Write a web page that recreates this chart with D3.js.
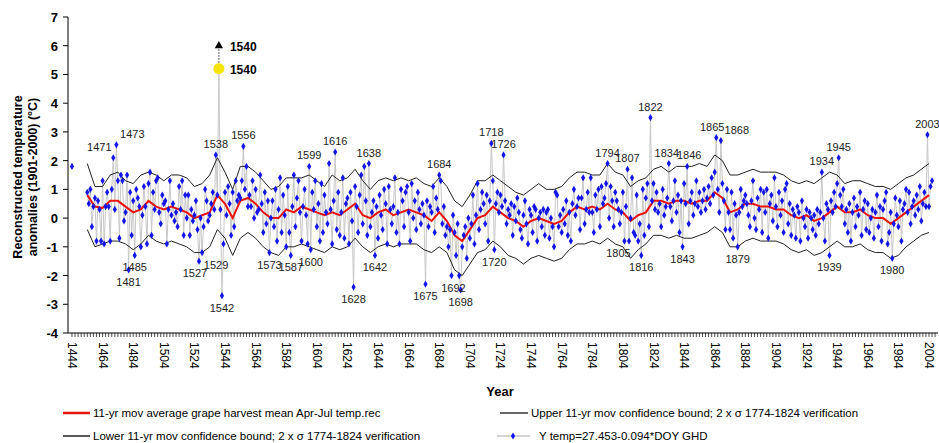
<!DOCTYPE html><html><head><meta charset="utf-8"><script src="https://cdn.jsdelivr.net/npm/d3@7"></script>
<style>body{margin:0;background:#fff}text{font-family:"Liberation Sans",Arial,sans-serif}</style></head><body><svg id="c" width="939" height="443"></svg>
<script>
const startYear=1454;
const blue=[
0.9,0.5,1.0,-0.3,0.4,0.7,-0.8,0.6,0.3,-0.8,
1.3,-0.9,0.4,0.9,0.4,-0.8,1.0,2.1,0.3,2.55,
1.3,-0.7,1.5,1.3,-0.1,0.2,1.5,-1.8,0.9,-0.6,
0.6,-1.3,1.0,0.7,0.4,-1.0,0.1,1.1,0.4,-0.9,
1.2,1.6,-0.6,0.9,0.3,1.3,1.4,0.2,-0.2,0.8,
0.5,0.6,-0.9,0.3,1.3,0.1,0.5,-0.1,0.2,-0.3,
1.1,0.3,1.3,-0.6,0.8,0.0,0.8,-0.6,0.3,-0.1,
0.1,0.6,-0.4,-1.5,0.0,-1.2,-0.3,1.0,0.6,-0.1,
0.1,0.5,0.9,0.3,2.2,0.8,5.2,0.3,-2.7,-0.9,
0.9,0.1,1.1,0.5,-0.6,0.9,-0.3,1.3,0.6,0.8,
0.7,1.3,2.5,1.0,1.8,0.4,0.8,0.4,1.3,0.0,
1.0,0.2,0.3,1.5,0.5,-0.5,0.9,-0.2,0.6,-1.2,
0.0,0.6,-0.3,1.0,-0.8,0.3,1.4,-0.5,0.8,0.1,
-1.0,1.1,-0.5,-1.3,0.4,1.5,-0.3,0.7,1.3,0.2,
-0.8,0.4,1.0,0.1,-0.9,1.8,-1.1,0.9,0.3,1.3,
-0.3,0.5,-0.8,1.2,-0.5,0.8,0.2,-0.2,1.9,0.3,
-0.9,0.6,2.3,-0.4,0.9,-0.6,0.2,1.4,-0.7,0.5,
0.7,-0.9,0.9,-0.1,-2.4,1.1,0.4,-0.5,0.8,1.5,
-0.2,1.8,0.6,-0.6,1.9,-0.3,0.2,0.6,-1.3,0.4,
-0.7,0.8,0.1,-0.4,1.0,0.5,-0.9,1.1,0.3,-0.2,
0.4,1.4,-0.5,0.2,-0.9,1.0,0.6,-0.3,0.9,1.1,
0.2,-0.8,1.2,0.0,0.6,-0.4,0.9,0.3,-0.2,0.5,
0.1,-2.3,0.6,-0.3,0.4,0.2,1.1,-0.5,0.7,0.3,
1.5,1.3,-0.2,0.4,-0.6,-0.3,-1.0,-0.4,-2.0,0.1,
-0.5,-1.3,-0.2,-2.0,-2.5,-1.0,-0.6,-0.3,-1.4,0.0,
-0.7,-0.2,0.8,-0.9,0.1,1.2,-0.4,0.3,0.9,0.5,
-0.2,0.8,-0.8,0.6,2.6,1.3,-1.1,0.5,0.9,0.2,
0.8,0.4,2.2,0.6,-0.2,0.3,0.1,0.5,-0.6,0.4,
-0.1,0.7,0.2,-0.4,-0.7,0.1,0.6,-0.2,-0.9,0.3,
0.1,-0.5,0.4,0.3,-0.8,0.0,0.2,-0.3,0.3,-0.6,
0.2,0.3,-0.7,0.0,-0.3,-1.0,0.9,0.8,-0.3,0.1,
-0.5,0.3,-0.2,0.6,-0.6,0.2,-0.8,0.5,1.0,0.1,
0.4,0.7,-0.4,0.7,1.4,-0.2,0.3,0.9,0.2,1.4,
0.2,-0.5,0.8,0.3,1.0,-0.3,1.1,0.5,0.7,1.2,
1.9,0.0,1.1,0.6,-0.3,0.9,0.6,0.3,-0.2,0.2,
0.9,-0.8,0.4,1.7,-0.8,0.0,1.4,-0.5,-0.6,0.8,
-0.8,-0.2,-1.3,1.0,-0.6,0.7,1.2,-0.3,3.5,0.6,
1.2,0.3,0.9,0.2,0.5,-0.3,1.0,0.1,0.4,0.7,
1.9,0.4,-0.1,0.6,1.3,0.2,0.8,-0.5,0.6,-1.0,
1.2,0.5,1.8,-0.2,0.6,0.9,0.1,0.5,1.3,0.4,
0.9,0.2,0.6,1.0,0.3,0.7,1.1,0.5,1.4,0.8,
1.6,2.8,1.0,0.2,2.7,1.2,0.6,-0.4,1.0,0.2,
-0.4,0.9,-0.7,0.5,0.1,-1.0,0.2,1.0,0.4,0.6,
0.8,0.5,0.1,-0.3,0.6,1.3,0.0,-0.4,0.7,0.3,
1.0,-0.5,0.9,0.2,1.0,-0.7,0.5,0.8,-0.1,1.4,
0.4,-0.3,0.9,0.1,0.6,-0.5,1.0,1.2,-0.2,0.5,
-0.6,0.3,0.1,-0.7,0.4,0.2,-0.8,0.6,0.0,-0.3,
0.3,-0.7,0.2,0.0,-0.4,0.1,-0.6,0.3,-0.2,0.2,
1.6,0.0,-0.8,0.5,0.3,-1.3,0.6,0.2,0.9,0.4,
1.2,2.1,0.8,0.4,1.0,-0.2,0.3,-0.5,0.5,-0.8,
0.2,0.7,-0.3,0.4,0.1,0.9,-0.6,0.3,0.6,-0.4,
0.5,-0.5,0.0,0.3,-0.7,0.2,0.8,-0.3,0.4,-0.8,
0.3,0.6,0.9,-0.9,-0.5,0.2,-1.4,-0.2,0.7,0.1,
-0.3,0.6,-0.8,0.3,0.5,1.0,0.2,0.9,-0.2,0.4,
0.6,0.1,0.8,0.3,1.1,-0.1,0.5,0.9,0.4,2.9,
0.4,1.1,1.3];
const firstPoint={year:1444,value:1.8};
const smoothStep=5;
const redAvg=[0.8,0.4,0.35,0.6,0.6,0.4,0.2,0.3,0.6,0.4,0.3,0.4,0.3,0.2,0.0,0.1,0.2,0.8,0.5,0.0,0.6,0.7,0.5,0.2,0.0,0.0,0.3,0.2,0.4,0.3,0.2,0.1,0.2,0.1,0.3,0.5,0.1,0.0,0.2,0.3,0.1,0.2,0.3,0.2,0.1,-0.1,0.2,-0.1,-0.6,-0.8,-0.4,0.0,0.1,0.4,0.2,0.0,-0.1,-0.3,-0.1,0.0,-0.1,-0.2,-0.1,0.2,0.4,0.3,0.4,0.3,0.5,0.3,0.2,-0.1,0.1,0.2,0.6,0.6,0.5,0.6,0.6,0.5,0.6,0.6,0.9,0.7,0.2,0.3,0.5,0.5,0.4,0.4,0.3,0.3,0.1,0.0,0.1,-0.1,0.0,0.2,0.4,0.2,0.2,0.3,0.1,0.0,0.0,-0.2,0.0,0.2,0.4,0.6,0.8];
const upperBound=[1.9,1.1,1.1,1.5,1.6,1.3,1.2,1.5,1.6,1.5,1.3,1.5,1.5,1.4,1.1,1.2,1.5,2.1,1.6,1.0,1.8,1.8,1.6,1.3,1.0,1.1,1.4,1.4,1.4,1.5,1.3,1.1,1.5,1.3,1.4,1.7,1.3,1.0,1.3,1.4,1.3,1.4,1.3,1.4,1.2,1.1,1.4,1.1,0.6,0.4,0.8,1.3,1.3,1.5,1.3,1.1,0.9,0.8,1.0,1.2,1.0,1.0,1.1,1.4,1.6,1.6,1.5,1.5,1.9,1.6,1.5,1.1,1.3,1.4,1.7,1.8,1.6,1.8,1.8,1.8,1.9,1.8,2.2,2.0,1.5,1.5,1.6,1.7,1.6,1.6,1.6,1.5,1.3,1.2,1.3,1.2,1.4,1.6,1.5,1.2,1.3,1.3,1.2,1.1,1.1,1.0,1.2,1.4,1.5,1.7,1.9];
const lowerBound=[-0.4,-1.0,-0.9,-0.8,-0.8,-0.9,-1.1,-0.9,-0.6,-0.8,-0.9,-0.8,-0.9,-1.0,-1.2,-1.2,-1.0,-0.4,-0.7,-1.3,-0.7,-0.5,-0.7,-1.0,-1.2,-1.3,-1.0,-1.0,-0.9,-1.0,-1.1,-1.2,-1.0,-1.1,-1.0,-0.7,-1.0,-1.2,-1.0,-0.9,-1.0,-0.9,-0.9,-0.9,-1.1,-1.2,-1.0,-1.2,-1.8,-2.0,-1.6,-1.2,-1.1,-0.8,-1.0,-1.3,-1.4,-1.6,-1.4,-1.3,-1.4,-1.5,-1.4,-1.1,-0.9,-0.9,-0.8,-0.9,-0.7,-0.9,-1.0,-1.4,-1.1,-0.9,-0.6,-0.6,-0.7,-0.6,-0.7,-0.7,-0.6,-0.5,-0.3,-0.5,-1.0,-1.0,-0.8,-0.7,-0.8,-0.8,-0.8,-0.9,-1.1,-1.2,-1.1,-1.3,-1.2,-1.0,-0.8,-1.0,-1.0,-0.9,-1.1,-1.2,-1.2,-1.4,-1.3,-1.0,-0.8,-0.6,-0.5];
const labelsHigh=[1471,1473,1538,1556,1599,1616,1638,1684,1718,1726,1794,1807,1822,1834,1846,1865,1868,1934,1945,2003];
const labelsLow=[1481,1485,1527,1529,1542,1573,1587,1600,1628,1642,1675,1692,1698,1720,1805,1816,1843,1879,1939,1980];
const yTicks=[-4,-3,-2,-1,0,1,2,3,4,5,6,7];
const xTickLabels=d3.range(1444,2005,20);

const svg=d3.select("#c");
const x=d3.scaleLinear().domain([1441.4,2009.9]).range([68,938]);
const y=d3.scaleLinear().domain([-4,7]).range([333,17]);
const pts=[firstPoint].concat(blue.map((v,i)=>({year:startYear+i,value:v})));
const val=yr=>pts.find(p=>p.year===yr).value;

svg.append("line").attr("x1",68).attr("x2",68).attr("y1",17).attr("y2",333).attr("stroke","#000");
svg.append("line").attr("x1",68).attr("x2",938).attr("y1",333).attr("y2",333).attr("stroke","#000");
yTicks.forEach(t=>{svg.append("line").attr("x1",63).attr("x2",68).attr("y1",y(t)).attr("y2",y(t)).attr("stroke","#000");
 svg.append("text").attr("x",58).attr("y",y(t)+5).attr("text-anchor","end").attr("font-size",13).attr("font-weight","bold").text(t);});
d3.range(1444,2010,2).forEach(t=>svg.append("line").attr("x1",x(t)).attr("x2",x(t)).attr("y1",333).attr("y2",337).attr("stroke","#000").attr("stroke-width",0.7));
xTickLabels.forEach(t=>svg.append("text").attr("transform",`translate(${x(t)-4},342) rotate(90)`).attr("font-size",12).text(t));
svg.append("text").attr("x",500).attr("y",396).attr("text-anchor","middle").attr("font-size",13).attr("font-weight","bold").text("Year");
const yt=svg.append("text").attr("transform","translate(22,177) rotate(-90)").attr("text-anchor","middle").attr("font-size",12.5).attr("font-weight","bold");
yt.append("tspan").attr("x",0).attr("dy",0).text("Reconstructed temperature");
yt.append("tspan").attr("x",0).attr("dy",15).text("anomalies (1901-2000) (°C)");

const sm=arr=>arr.map((v,i)=>({year:startYear+i*smoothStep,value:v}));
const line=d3.line().x(d=>x(d.year)).y(d=>y(Math.min(d.value,5.2)));
const series=pts.filter(p=>p.year>=startYear);
svg.append("path").attr("d",line(series)).attr("fill","none").attr("stroke","#c8c8c8").attr("stroke-width",1);
svg.append("path").attr("d",line(sm(upperBound))).attr("fill","none").attr("stroke","#222").attr("stroke-width",1);
svg.append("path").attr("d",line(sm(lowerBound))).attr("fill","none").attr("stroke","#222").attr("stroke-width",1);
svg.append("path").attr("d",line(sm(redAvg))).attr("fill","none").attr("stroke","#e8140c").attr("stroke-width",2);
const dia=d3.symbol().type(d3.symbolDiamond).size(15);
svg.selectAll(".p").data(pts.filter(p=>p.year!==1540)).join("path").attr("d",dia).attr("transform",d=>`translate(${x(d.year)},${y(d.value)})`).attr("fill","#1414e6");
const x40=x(1540);
svg.append("line").attr("x1",x40).attr("x2",x40).attr("y1",y(5.2)).attr("y2",y(5.9)).attr("stroke","#333").attr("stroke-dasharray","1.5,1.5");
svg.append("circle").attr("cx",x40).attr("cy",y(5.2)).attr("r",5.5).attr("fill","#f5e400");
svg.append("path").attr("d",d3.symbol().type(d3.symbolTriangle).size(30)).attr("transform",`translate(${x40},${y(6.0)})`).attr("fill","#000");
[6.0,5.2].forEach(v=>svg.append("text").attr("x",x40+11).attr("y",y(v)+5).attr("font-size",12).attr("font-weight","bold").text("1540"));
const dxMap={1471:-14,1473:16,1527:-4,1529:14,1865:-4,1868:16,1834:-2,1846:2,1805:-6,1692:2};
labelsHigh.forEach(yr=>svg.append("text").attr("x",x(yr)+(dxMap[yr]||0)).attr("y",y(val(yr))-7).attr("text-anchor","middle").attr("font-size",11).attr("fill","#222").text(yr));
labelsLow.forEach(yr=>svg.append("text").attr("x",x(yr)+(dxMap[yr]||0)).attr("y",y(val(yr))+16).attr("text-anchor","middle").attr("font-size",11).attr("fill","#222").text(yr));

const lg=(x1,x2,yy,col,w,txt,tx)=>{svg.append("line").attr("x1",x1).attr("x2",x2).attr("y1",yy).attr("y2",yy).attr("stroke",col).attr("stroke-width",w);
 svg.append("text").attr("x",tx).attr("y",yy+4).attr("font-size",11.5).text(txt);};
lg(63,90,413,"#e8140c",2.5,"11-yr mov average grape harvest mean Apr-Jul temp.rec",93);
lg(500,528,413,"#333",1.5,"Upper 11-yr mov confidence bound; 2 x σ 1774-1824 verification",531);
lg(63,90,436,"#222",1.5,"Lower 11-yr mov confidence bound; 2 x σ 1774-1824 verification",93);
lg(497,530,436,"#aaa",1,"Y  temp=27.453-0.094*DOY  GHD",539);
svg.append("path").attr("d",dia).attr("transform","translate(513,436)").attr("fill","#1414e6");
</script></body></html>
